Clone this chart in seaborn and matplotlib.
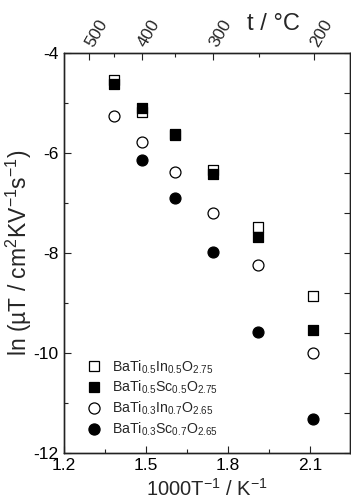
import numpy as np
import pandas as pd
import matplotlib
matplotlib.use("Agg")
import matplotlib.pyplot as plt
from matplotlib.lines import Line2D
import seaborn as sns

# ---- data ----
inv_T = [1.385, 1.486, 1.605, 1.743, 1.909, 2.110]
inv_T_sc07 = [1.486, 1.605, 1.743, 1.909, 2.110]
ln_in05 = [-4.54, -5.18, -5.63, -6.35, -7.48, -8.87]
ln_sc05 = [-4.62, -5.11, -5.64, -6.42, -7.69, -9.55]
ln_in07 = [-5.27, -5.78, -6.39, -7.20, -8.24, -10.01]
ln_sc07 = [-6.15, -6.91, -7.99, -9.59, -11.33]
labels = [r"BaTi$_{0.5}$In$_{0.5}$O$_{2.75}$",
          r"BaTi$_{0.5}$Sc$_{0.5}$O$_{2.75}$",
          r"BaTi$_{0.3}$In$_{0.7}$O$_{2.65}$",
          r"BaTi$_{0.3}$Sc$_{0.7}$O$_{2.65}$"]
x_major = [1.2, 1.5, 1.8, 2.1]
x_minor = [1.35, 1.65, 1.95]
y_major = [-12, -10, -8, -6, -4]
y_minor = [-11, -9, -7, -5]
top_t_major = [500, 400, 300, 200]
top_t_minor = [450, 350, 250]

sns.set_theme(style="ticks")
plt.rcParams["font.family"] = ["Liberation Sans", "DejaVu Sans"]
plt.rcParams["mathtext.fontset"] = "custom"
plt.rcParams["mathtext.rm"] = "Liberation Sans"
plt.rcParams["mathtext.it"] = "Liberation Sans:italic"
plt.rcParams["mathtext.bf"] = "Liberation Sans:bold"

SP = "#222222"
fig = plt.figure(figsize=(3.51, 5.01), dpi=100)
ax = fig.add_axes([0.181, 0.0964, 0.816, 0.798])

ms = 62
series = [
    (inv_T, ln_in05, "s", "white"),
    (inv_T, ln_sc05, "s", "black"),
    (inv_T, ln_in07, "o", "white"),
    (inv_T_sc07, ln_sc07, "o", "black"),
]
for xs, ys, mk, fc in series:
    df = pd.DataFrame({"x": xs, "y": ys})
    sns.scatterplot(data=df, x="x", y="y", marker=mk, color=fc,
                    edgecolor="black", linewidth=0.9, s=ms, ax=ax, zorder=3)

ax.set_xlim(1.2, 2.244)
ax.set_ylim(-12, -4)
ax.set_xticks(x_major)
ax.set_xticks(x_minor, minor=True)
ax.set_yticks(y_major)
ax.set_yticks(y_minor, minor=True)
ax.set_xticklabels([f"{v:.1f}" for v in x_major])
ax.set_yticklabels([str(v) for v in y_major])
ax.tick_params(axis="both", which="major", direction="in", length=5, width=0.8,
               labelsize=12.5, pad=3.5, color=SP, labelcolor="black")
ax.tick_params(axis="both", which="minor", direction="in", length=3, width=0.8,
               color=SP)
ax.tick_params(axis="x", which="both", top=False)
ax.tick_params(axis="y", which="both", right=False)
for sp in ax.spines.values():
    sp.set_linewidth(0.9)
    sp.set_color(SP)

ax.set_xlabel("1000T$^{-1}$ / K$^{-1}$", fontsize=14.5, labelpad=4)
ax.set_ylabel("ln (µT / cm$^{2}$KV$^{-1}$s$^{-1}$)", fontsize=16.5, labelpad=0)

# top axis: temperature in °C
top = ax.twiny()
top.set_xlim(ax.get_xlim())
top.set_xticks([1000.0 / (t + 273.15) for t in top_t_major])
top.set_xticks([1000.0 / (t + 273.15) for t in top_t_minor], minor=True)
top.set_xticklabels([str(t) for t in top_t_major], rotation=60,
                    rotation_mode="anchor")
top.tick_params(axis="x", which="major", direction="in", length=5, width=0.8,
                labelsize=12.5, pad=5, color=SP)
top.tick_params(axis="x", which="minor", direction="in", length=3, width=0.8,
                color=SP)
for lbl in top.get_xticklabels():
    lbl.set_horizontalalignment("left")
    lbl.set_verticalalignment("center")
fig.text(0.703, 0.94, "t / °C", fontsize=17, ha="left", va="baseline")

# right axis: unlabeled ticks
right = ax.twinx()
right.set_ylim(0, 10)
right.set_yticks(range(11))
right.set_yticklabels([])
right.tick_params(axis="y", direction="in", length=4, width=0.8, color=SP)
for a in (top, right):
    for sp in a.spines.values():
        sp.set_linewidth(0.9)
        sp.set_color(SP)

handles = [
    Line2D([], [], linestyle="none", marker="s", markerfacecolor="white",
           markeredgecolor="black", markersize=7.3, markeredgewidth=0.9),
    Line2D([], [], linestyle="none", marker="s", markerfacecolor="black",
           markeredgecolor="black", markersize=7.3, markeredgewidth=0.9),
    Line2D([], [], linestyle="none", marker="o", markerfacecolor="white",
           markeredgecolor="black", markersize=8, markeredgewidth=0.9),
    Line2D([], [], linestyle="none", marker="o", markerfacecolor="black",
           markeredgecolor="black", markersize=8, markeredgewidth=0.9),
]
ax.legend(handles, labels, loc="lower left", bbox_to_anchor=(0.048, 0.012),
          frameon=False, fontsize=10.2, handlelength=1.0, handletextpad=0.75,
          labelspacing=0.24, borderaxespad=0.3)

fig.savefig("out.png", dpi=100)
